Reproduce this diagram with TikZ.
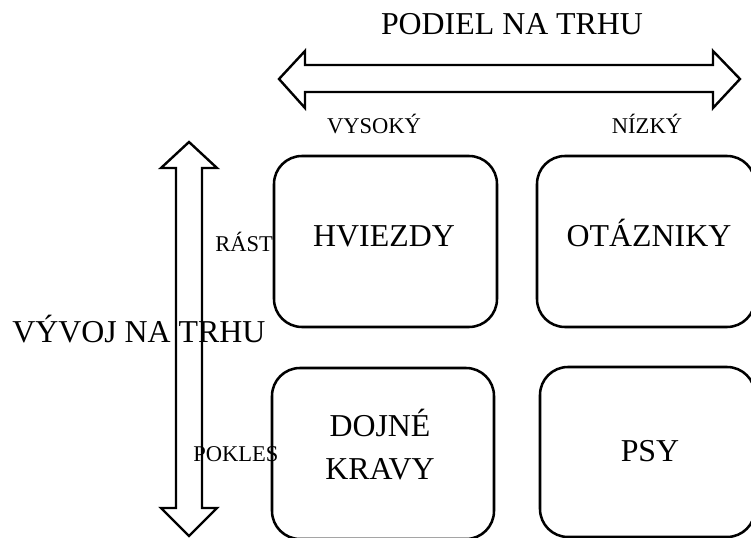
\documentclass[tikz,border=0pt]{standalone}
\usepackage{fontspec}
\setmainfont{Liberation Serif}
\begin{document}
\begin{tikzpicture}[x=0.75pt,y=-0.75pt,
  box/.style={draw,line width=1.9pt,rounded corners=21pt,inner sep=0pt},
  big/.style={inner sep=0pt,font=\fontsize{23.9pt}{28pt}\selectfont},
  small/.style={inner sep=0pt,font=\fontsize{16.9pt}{20pt}\selectfont},
  arr/.style={draw,line width=1.8pt,line join=miter}]
\useasboundingbox (0,0) rectangle (751,538);
% double arrows
\draw[arr] (279,79) -- (305,51) -- (305,65) -- (713,65) -- (713,51) -- (740,79)
  -- (713,108) -- (713,92) -- (305,92) -- (305,108) -- cycle;
\draw[arr] (189,142) -- (217,168) -- (202,168) -- (202,508) -- (217,508) -- (189,536)
  -- (161,508) -- (176,508) -- (176,168) -- (161,168) -- cycle;
% boxes
\node[box,minimum width=167.25pt,minimum height=128.25pt] (hv) at (385.5,241.5) {};
\node[box,minimum width=163.5pt,minimum height=128.25pt] (ot) at (646,241.5) {};
\node[box,minimum width=166.5pt,minimum height=128.25pt] (dk) at (383,453.5) {};
\node[box,minimum width=161.25pt,minimum height=127.5pt] (ps) at (647.5,452) {};
% labels
\node[big,anchor=base] (podiel) at (512,35) {PODIEL NA TRHU};
\node[small,anchor=base] (vys) at (374,134) {VYSOKÝ};
\node[small,anchor=base] (niz) at (647,134) {NÍZKÝ};
\node[small,anchor=base west] (rast) at (215,252) {RÁST};
\node[small,anchor=base west] (pok) at (193,462) {POKLES};
\node[big,anchor=base west] (vyvoj) at (12,343) {VÝVOJ NA TRHU};
\node[big,anchor=base] (thv) at (384,247) {HVIEZDY};
\node[big,anchor=base] (tot) at (649,247) {OTÁZNIKY};
\node[big,anchor=base] (tdk1) at (380,437) {DOJNÉ};
\node[big,anchor=base] (tdk2) at (380,480) {KRAVY};
\node[big,anchor=base] (tps) at (650,462) {PSY};
\end{tikzpicture}
\end{document}
